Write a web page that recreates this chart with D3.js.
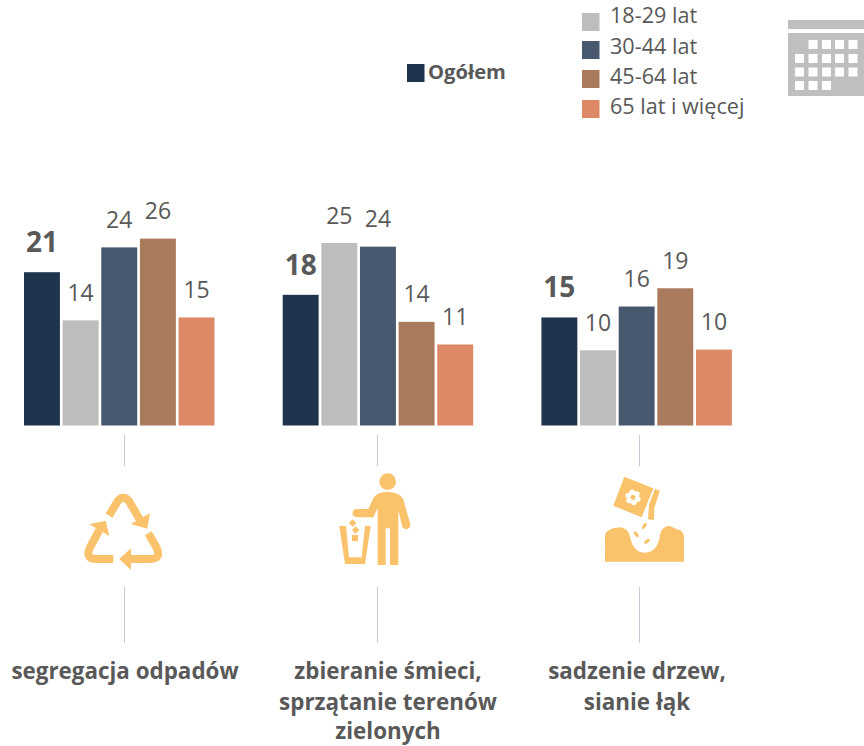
<!DOCTYPE html>
<html><head><meta charset="utf-8">
<script src="https://cdn.jsdelivr.net/npm/d3@7"></script>
<style>html,body{margin:0;padding:0;background:#fff}svg{display:block}text{font-family:"Open Sans",sans-serif;fill:#595959}</style>
</head><body><svg id="c" width="864" height="746"></svg>
<script>
const categories = ["segregacja odpadów","zbieranie śmieci, sprzątanie terenów zielonych","sadzenie drzew, sianie łąk"];
const categoryLines = [["segregacja odpadów"],["zbieranie śmieci,","sprzątanie terenów","zielonych"],["sadzenie drzew,","sianie łąk"]];
const seriesNames = ["Ogółem","18-29 lat","30-44 lat","45-64 lat","65 lat i więcej"];
const seriesColors = ["#1f354d","#bdbdbd","#48586f","#a97a5b","#dd8965"];
const labels = [[21,14,24,26,15],[18,25,24,14,11],[15,10,16,19,10]];
const values = [[21,14.4,24.4,25.6,14.8],[17.9,25.0,24.5,14.2,11.1],[14.8,10.3,16.3,18.8,10.4]];

const svg = d3.select("#c");
const baseY = 425.5, y = d3.scaleLinear().domain([0,26]).range([baseY, baseY-189.8]);
const gx = d3.scaleBand().domain(d3.range(3)).range([24,24+3*258.7]).paddingInner(0).paddingOuter(0);
const sx = d3.scaleBand().domain(d3.range(5)).range([0,190.5]).paddingInner(0.07).paddingOuter(0);

const groups = svg.selectAll("g.grp").data(values).join("g").attr("class","grp")
  .attr("transform",(d,i)=>`translate(${gx(i)},0)`);
groups.selectAll("rect").data(d=>d).join("rect")
  .attr("x",(d,i)=>sx(i)).attr("width",sx.bandwidth())
  .attr("y",d=>y(d)).attr("height",d=>baseY-y(d))
  .attr("fill",(d,i)=>seriesColors[i]);
groups.selectAll("text").data((d,gi)=>d.map((v,i)=>({v,i,l:labels[gi][i]}))).join("text")
  .attr("x",d=>sx(d.i)+sx.bandwidth()/2)
  .attr("y",d=>y(d.v)-(d.i===0?20:19.5))
  .attr("text-anchor","middle")
  .attr("font-size",d=>d.i===0?28:23)
  .attr("font-weight",d=>d.i===0?700:400)
  .text(d=>d.l);

// legend
const legendY = [64,13,41,70,100], legendX=[407,582,582,582,582], legendTy=[79,23,54,84,114];
seriesNames.forEach((n,i)=>{
  svg.append("rect").attr("x",legendX[i]).attr("y",legendY[i]).attr("width",17.5).attr("height",18).attr("fill",seriesColors[i]);
  svg.append("text").attr("x",i===0?428:610).attr("y",legendTy[i]).attr("font-size",i===0?20.2:21.6)
    .attr("font-weight",i===0?700:400).text(n);
});

// calendar
const cal = svg.append("g").attr("fill","#bfbfbf");
cal.append("rect").attr("x",788).attr("y",20).attr("width",76).attr("height",9);
cal.append("rect").attr("x",788).attr("y",33).attr("width",76).attr("height",63);
const calCols=[795,808.5,822,835,848.5], calRows=[40,54,67.5,81], calUse=[[1,2,3,4],[0,1,2,3,4],[0,1,2,3,4],[0,1,2]];
calUse.forEach((r,ri)=>r.forEach(c=>svg.append("rect").attr("x",calCols[c]).attr("y",calRows[ri]).attr("width",9).attr("height",9).attr("fill","#fff")));

// separators
[124.5,377.5,639.5].forEach(x=>{
  [[435,466],[587,643]].forEach(s=>svg.append("line").attr("x1",x).attr("x2",x).attr("y1",s[0]).attr("y2",s[1]).attr("stroke","#c9c9d6").attr("stroke-width",1));
});

// category labels
const catX=[125,388,637], lineY=[679,710,739];
categoryLines.forEach((ls,i)=>ls.forEach((t,j)=>svg.append("text").attr("x",catX[i]).attr("y",lineY[j]).attr("text-anchor","middle")
  .attr("font-size",22.4).attr("font-weight",700).text(t)));

// icons
const ic="#f9c26b";
const rec=svg.append("g").attr("transform","translate(60,470) scale(0.3333)");
rec.selectAll("path.s").data(["M147,137L172,95Q190,72 208,95L240,150","M160,267L110,267Q72,267 92,228L118,180","M265,190L287,228Q308,267 270,267L210,267"])
  .join("path").attr("class","s").attr("d",d=>d).attr("fill","none").attr("stroke",ic).attr("stroke-width",24);
rec.selectAll("path.h").data(["M270,130L262,176L212,162Z","M88,163L137,152L148,198Z","M213,235L178,267L213,300Z"])
  .join("path").attr("class","h").attr("d",d=>d).attr("fill",ic);

const ico=svg.append("g").attr("transform","translate(340,440) scale(0.3333)").attr("fill",ic);
ico.append("circle").attr("cx",143).attr("cy",125).attr("r",25);
ico.append("path").attr("d","M113,375L113,205L100,232L50,232A12.5,12.5 0 0 1 50,207L85,207L100,175Q108,157 140,155Q180,157 190,178L210,250A12,12 0 0 1 187,260L175,210L175,375L150,375L150,265L137,265L137,375Z");
ico.append("path").attr("d","M-2,258L18,258L27,352L65,352L75,258L92,258L75,372L15,372Z");
ico.append("path").attr("d","M38,238L49,249L38,260L27,249Z M47,259L58,270L47,281L36,270Z M36,285H54V303H36Z");
ico.append("path").attr("d","M853,110L940,145L905,232L820,197Z");
ico.append("path").attr("d","M945,146L960,152L943,205L942,240L924,238L927,195Z");
ico.append("path").attr("d","M795,365L795,285Q800,265 840,262Q865,265 870,290Q880,338 915,338Q955,335 960,285Q965,258 990,258Q1000,262 1010,268Q1030,270 1032,290L1032,365Z");
[[913,258,-60],[889,283,55],[921,304,-40]].forEach(s=>ico.append("ellipse").attr("cx",s[0]).attr("cy",s[1]).attr("rx",10).attr("ry",5).attr("transform",`rotate(${s[2]} ${s[0]} ${s[1]})`));
d3.range(6).forEach(k=>{const a=k*Math.PI/3+0.35;ico.append("circle").attr("cx",879+15*Math.cos(a)).attr("cy",172+15*Math.sin(a)).attr("r",8.5).attr("fill","#fff");});
ico.append("circle").attr("cx",879).attr("cy",172).attr("r",6).attr("fill",ic);
</script></body></html>
